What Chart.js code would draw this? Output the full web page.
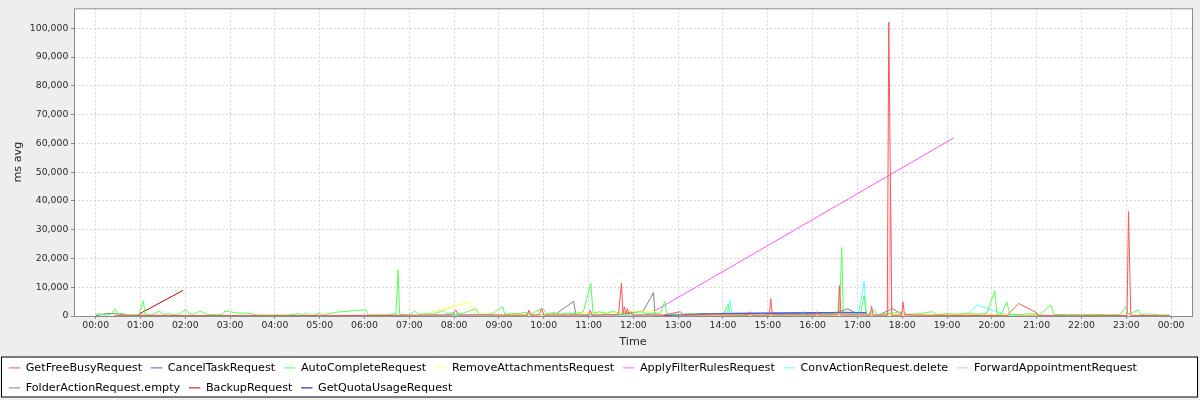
<!DOCTYPE html>
<html>
<head>
<meta charset="utf-8">
<script src="https://cdn.jsdelivr.net/npm/chart.js@4.4.1/dist/chart.umd.min.js"></script>
<style>
  html, body { margin: 0; padding: 0; background: #eeeeee; }
</style>
</head>
<body>
<canvas id="msChart" width="1200" height="400"></canvas>
<script>
// times are minutes after midnight, values are ms avg
const freeBusyMin = [25, 60, 120, 200, 300, 400, 460, 478, 482, 486, 520, 555, 578, 580, 583, 594, 597, 600, 640, 660, 662, 665, 700, 704, 706, 708, 710, 712, 714, 716, 719, 740, 760, 783, 786, 830, 874, 876, 879, 902, 904, 906, 940, 964, 966, 968, 994, 996, 998, 1020, 1037, 1039, 1041, 1060, 1062, 1066, 1079, 1081, 1083, 1100, 1150, 1220, 1236, 1260, 1262, 1300, 1381, 1383, 1386, 1439];
const freeBusyMs = [100, 150, 100, 100, 100, 200, 300, 400, 2100, 300, 400, 300, 300, 2100, 300, 400, 2700, 300, 400, 300, 2000, 300, 500, 11400, 800, 3200, 600, 2600, 500, 1500, 300, 400, 300, 1500, 300, 400, 300, 1500, 300, 300, 6000, 300, 400, 300, 1500, 300, 400, 10600, 300, 400, 300, 3400, 300, 300, 102200, 300, 300, 4900, 500, 300, 200, 100, 4350, 1100, 100, 100, 200, 36300, 200, 100];

const cancelTaskMin = [760, 780, 840, 900, 960, 1000, 1032];
const cancelTaskMs = [100, 300, 900, 1000, 1100, 1300, 1200];

const autoCompleteMin = [0, 5, 10, 15, 20, 26, 29, 33, 36, 42, 48, 52, 58, 64, 66, 71, 76, 82, 86, 89, 93, 97, 103, 108, 114, 121, 126, 131, 140, 149, 156, 163, 171, 173, 179, 192, 203, 216, 230, 245, 256, 267, 273, 277, 281, 285, 292, 300, 304, 322, 362, 365, 389, 398, 402, 405, 407, 414, 420, 427, 432, 445, 452, 466, 470, 477, 482, 492, 503, 509, 513, 523, 532, 545, 548, 556, 565, 574, 583, 599, 604, 613, 622, 631, 644, 653, 663, 666, 675, 684, 693, 702, 711, 720, 729, 738, 747, 756, 762, 765, 773, 786, 800, 813, 827, 840, 847, 849, 863, 876, 890, 903, 916, 934, 952, 970, 986, 996, 999, 1001, 1010, 1024, 1029, 1032, 1043, 1046, 1059, 1073, 1082, 1086, 1100, 1120, 1126, 1139, 1153, 1167, 1180, 1193, 1204, 1207, 1213, 1220, 1224, 1238, 1251, 1265, 1279, 1283, 1300, 1318, 1336, 1354, 1372, 1379, 1383, 1396, 1399, 1412, 1425, 1439];
const autoCompleteMs = [600, 800, 350, 300, 600, 2500, 800, 700, 1000, 350, 400, 300, 500, 5300, 800, 500, 400, 1300, 1700, 700, 500, 1000, 500, 400, 900, 2200, 700, 600, 1800, 600, 500, 400, 800, 1800, 1500, 1000, 1000, 350, 300, 350, 300, 600, 900, 350, 1000, 350, 300, 1000, 350, 1300, 2200, 350, 350, 800, 600, 16000, 700, 500, 300, 1800, 600, 800, 600, 2000, 700, 1200, 500, 1000, 2000, 2600, 600, 500, 800, 3300, 500, 1000, 700, 1300, 800, 2600, 800, 1200, 600, 1000, 900, 1500, 11400, 1000, 1500, 800, 1800, 700, 1200, 900, 1500, 800, 1000, 600, 5100, 600, 700, 500, 900, 600, 800, 500, 4000, 500, 700, 500, 800, 600, 500, 700, 400, 700, 600, 1000, 23800, 800, 600, 800, 7000, 500, 2000, 500, 800, 1200, 1500, 600, 700, 1500, 500, 800, 600, 900, 600, 800, 8700, 600, 700, 4900, 600, 500, 800, 600, 3800, 500, 600, 400, 600, 400, 500, 3200, 500, 2100, 500, 700, 400, 300];

const removeAttachMin = [434, 500, 508, 600, 722, 751, 760, 1200, 1262];
const removeAttachMs = [240, 4800, 700, 300, 1500, 1500, 300, 600, 500];

const applyFilterMin = [747, 1149];
const applyFilterMs = [1500, 61900];

const convDeleteMin = [367, 420, 600, 800, 845, 849, 852, 880, 945, 947, 950, 1000, 1021, 1029, 1032, 1100, 1167, 1180, 1220, 1230];
const convDeleteMs = [300, 200, 300, 400, 300, 5500, 300, 500, 300, 1700, 400, 600, 300, 12100, 300, 500, 100, 3800, 400, 100];

const forwardApptMin = [300, 700, 900, 1000, 1062, 1064, 1066, 1150, 1300];
const forwardApptMs = [100, 200, 300, 400, 300, 49000, 300, 200, 100];

const folderEmptyMin = [0, 16, 26, 40, 120, 300, 500, 600, 617, 640, 643, 700, 722, 733, 747, 749, 850, 990, 1007, 1020, 1050, 1067, 1080, 1200, 1300];
const folderEmptyMs = [100, 900, 800, 300, 200, 200, 300, 300, 800, 5100, 300, 300, 1400, 1700, 8100, 200, 300, 1000, 2500, 700, 500, 2600, 500, 300, 200];

const backupMin = [54, 117];
const backupMs = [100, 8900];

const quotaUsageMin = [765, 800, 860, 920, 980, 1032];
const quotaUsageMs = [300, 700, 900, 1000, 1100, 1100];

const seriesNames = [
  "GetFreeBusyRequest", "CancelTaskRequest", "AutoCompleteRequest",
  "RemoveAttachmentsRequest", "ApplyFilterRulesRequest", "ConvActionRequest.delete",
  "ForwardAppointmentRequest", "FolderActionRequest.empty", "BackupRequest",
  "GetQuotaUsageRequest",
];
const seriesColors = [
  "#ff5555", "#5555ff", "#55ff55", "#ffff55", "#ff55ff",
  "#55ffff", "#ffafaf", "#808080", "#c00000", "#0000c0",
];
const seriesData = [
  [freeBusyMin, freeBusyMs],
  [cancelTaskMin, cancelTaskMs],
  [autoCompleteMin, autoCompleteMs],
  [removeAttachMin, removeAttachMs],
  [applyFilterMin, applyFilterMs],
  [convDeleteMin, convDeleteMs],
  [forwardApptMin, forwardApptMs],
  [folderEmptyMin, folderEmptyMs],
  [backupMin, backupMs],
  [quotaUsageMin, quotaUsageMs],
];

// tick positions: every hour (in minutes) and every 10,000 ms
const xTickMinutes = [0, 60, 120, 180, 240, 300, 360, 420, 480, 540, 600, 660, 720, 780, 840, 900, 960, 1020, 1080, 1140, 1200, 1260, 1320, 1380, 1440];
const yTickValues = [0, 10000, 20000, 30000, 40000, 50000, 60000, 70000, 80000, 90000, 100000];

const X_MIN = -29, X_MAX = 1468;   // axis range in minutes
const Y_MAX = 106960;

const FONT = "'DejaVu Sans', sans-serif";
const TEXT = "#2a2a2a";

const plotFrame = {
  id: "plotFrame",
  beforeDraw(chart) {
    const { ctx, chartArea: a, legend } = chart;
    ctx.save();
    ctx.fillStyle = "#ffffff";
    ctx.fillRect(a.left, a.top, a.right - a.left, a.bottom - a.top);
    // boxed legend
    ctx.fillRect(1.5, legend.top + 4, chart.width - 4, 40);
    ctx.strokeStyle = "#000000";
    ctx.lineWidth = 1;
    ctx.strokeRect(1.5, legend.top + 3.5, chart.width - 4, 40);
    ctx.restore();
  },
  afterDraw(chart) {
    const { ctx, chartArea: a } = chart;
    ctx.save();
    ctx.strokeStyle = "#8c8c8c";
    ctx.lineWidth = 1;
    ctx.strokeRect(a.left + 0.5, a.top + 0.5, a.right - a.left, a.bottom - a.top);
    ctx.restore();
  },
};

function hourLabel(v) {
  const h = Math.round(v / 60) % 24;
  return String(h).padStart(2, "0") + ":00";
}

function render() {
  const ctx = document.getElementById("msChart").getContext("2d");

  const datasets = seriesData.map(([mins, vals], i) => ({
    label: seriesNames[i],
    data: mins.map((m, j) => ({ x: m, y: vals[j] })),
    borderColor: seriesColors[i],
    backgroundColor: seriesColors[i],
    borderWidth: 1,
    pointRadius: 0,
    tension: 0,
    fill: false,
  }));

  const gridStyle = {
    color: "#d6d6d6",
    tickLength: 3,
    tickColor: "#8c8c8c",
    tickBorderDash: [],
  };
  // in v4 the dash of the grid lines sits under border
  const borderStyle = { display: false, dash: [2, 2] };

  new Chart(ctx, {
    type: "line",
    data: { datasets },
    options: {
      responsive: false,
      animation: false,
      events: [],
      parsing: false,
      layout: { padding: { top: 4, right: 8, bottom: 0, left: 0 } },
      plugins: {
        tooltip: { enabled: false },
        legend: {
          position: "bottom",
          align: "start",
          maxHeight: 46.5,
          labels: {
            usePointStyle: true,
            pointStyle: "line",
            pointStyleWidth: 11.3,
            padding: 8.8,
            color: "#000000",
            font: { family: FONT, size: 11.2 },
          },
        },
      },
      scales: {
        x: {
          type: "linear",
          min: X_MIN,
          max: X_MAX,
          afterBuildTicks: (scale) => {
            scale.ticks = xTickMinutes.map((v) => ({ value: v }));
          },
          afterFit: (scale) => { scale.height = 37.5; },
          border: borderStyle,
          grid: gridStyle,
          ticks: {
            autoSkip: false,
            maxRotation: 0,
            minRotation: 0,
            padding: 1.4,
            color: TEXT,
            font: { family: FONT, size: 9.3 },
            callback: (v) => hourLabel(v),
          },
          title: {
            display: true,
            text: "Time",
            color: TEXT,
            font: { family: FONT, size: 11.2 },
            padding: { top: 0, bottom: 4.5 },
          },
        },
        y: {
          min: 0,
          max: Y_MAX,
          afterBuildTicks: (scale) => {
            scale.ticks = yTickValues.map((v) => ({ value: v }));
          },
          afterFit: (scale) => { scale.width = 74; },
          border: borderStyle,
          grid: gridStyle,
          ticks: {
            padding: 2.7,
            color: TEXT,
            font: { family: FONT, size: 9.3 },
            callback: (v) => v.toLocaleString("en-US"),
          },
          title: {
            display: true,
            text: "ms avg",
            color: TEXT,
            font: { family: FONT, size: 11.2 },
            padding: { top: 10.9, bottom: 0 },
          },
        },
      },
    },
    plugins: [plotFrame],
  });
}

render();
</script>
</body>
</html>
